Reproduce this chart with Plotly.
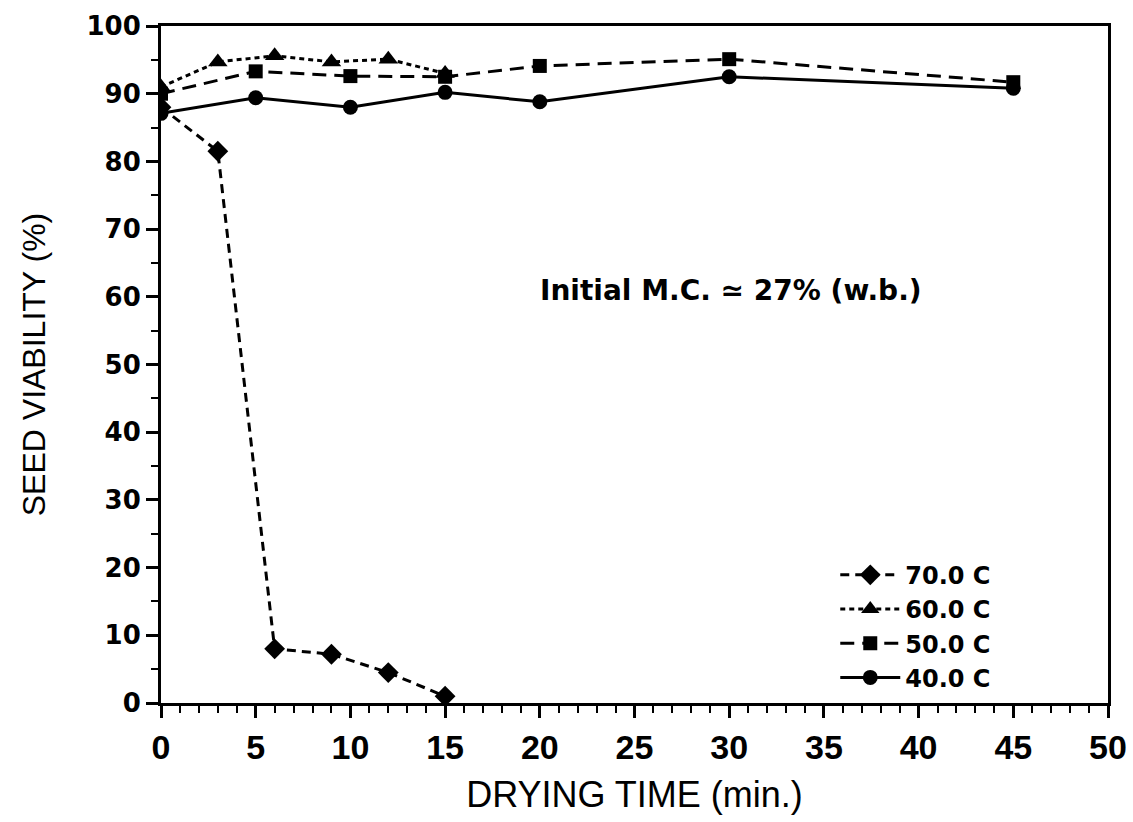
import plotly.graph_objects as go

t70 = [0, 3, 6, 9, 12, 15]
v70 = [88.0, 81.5, 8.0, 7.2, 4.5, 1.0]
t60 = [0, 3, 6, 9, 12, 15]
v60 = [91.0, 94.7, 95.6, 94.7, 95.1, 93.0]
t50 = [0, 5, 10, 15, 20, 30, 45]
v50 = [90.0, 93.3, 92.6, 92.5, 94.1, 95.1, 91.7]
t40 = [0, 5, 10, 15, 20, 30, 45]
v40 = [87.1, 89.4, 88.0, 90.2, 88.8, 92.5, 90.8]

names = ["70.0 C", "60.0 C", "50.0 C", "40.0 C"]
xticks = [0, 5, 10, 15, 20, 25, 30, 35, 40, 45, 50]
yticks = [0, 10, 20, 30, 40, 50, 60, 70, 80, 90, 100]

series = [
    (t70, v70, "diamond", "9px,6px", 16),
    (t60, v60, "triangle-up", "5px,4px", 17),
    (t50, v50, "square", "14px,8px", 14),
    (t40, v40, "circle", "solid", 15),
]

fig = go.Figure()
for (x, y, sym, dash, sz), nm in zip(series, names):
    fig.add_trace(go.Scatter(
        x=x, y=y, name=nm, mode="lines+markers",
        line=dict(color="black", width=3, dash=dash),
        marker=dict(symbol=sym, size=sz, color="black"),
    ))

xtickfont = dict(family="Liberation Sans", size=34, color="black", weight="bold")
ytickfont = dict(family="DejaVu Sans", size=26, color="black", weight="bold")
fig.update_layout(
    width=1133, height=822,
    margin=dict(l=161, r=25, t=26, b=119),
    paper_bgcolor="white", plot_bgcolor="white",
    showlegend=True,
    legend=dict(x=0.712, y=0.222, xanchor="left", yanchor="top",
                font=dict(family="DejaVu Sans", size=24, color="black", weight="bold"),
                bgcolor="rgba(0,0,0,0)", itemwidth=60, tracegroupgap=0),
    xaxis=dict(range=[0, 50], tickvals=xticks, ticktext=[str(v) for v in xticks],
               automargin=False,
               showgrid=False, zeroline=False, showline=True, linecolor="black", linewidth=3,
               mirror=True, ticks="outside", ticklen=12, tickwidth=2.5, tickcolor="black",
               tickfont=xtickfont,
               minor=dict(dtick=1, ticks="outside", ticklen=7, tickwidth=2, tickcolor="black"),
               title=dict(text="DRYING TIME (min.)", standoff=18,
                          font=dict(family="Liberation Sans", size=36, color="black"))),
    yaxis=dict(range=[0, 100], tickvals=yticks, ticktext=[str(v) for v in yticks],
               automargin=False,
               showgrid=False, zeroline=False, showline=True, linecolor="black", linewidth=3,
               mirror=True, ticks="outside", ticklen=12, tickwidth=2.5, tickcolor="black",
               tickfont=ytickfont,
               minor=dict(dtick=5, ticks="outside", ticklen=7, tickwidth=2, tickcolor="black"),
               title=dict(text="SEED VIABILITY (%)", standoff=32,
                          font=dict(family="Liberation Sans", size=32, color="black"))),
)
fig.add_annotation(x=30.1, y=61, xref="x", yref="y", text="Initial M.C. \u2243 27% (w.b.)",
                   showarrow=False,
                   font=dict(family="DejaVu Sans", size=28, color="black", weight="bold"))
fig.write_html("out.html")
